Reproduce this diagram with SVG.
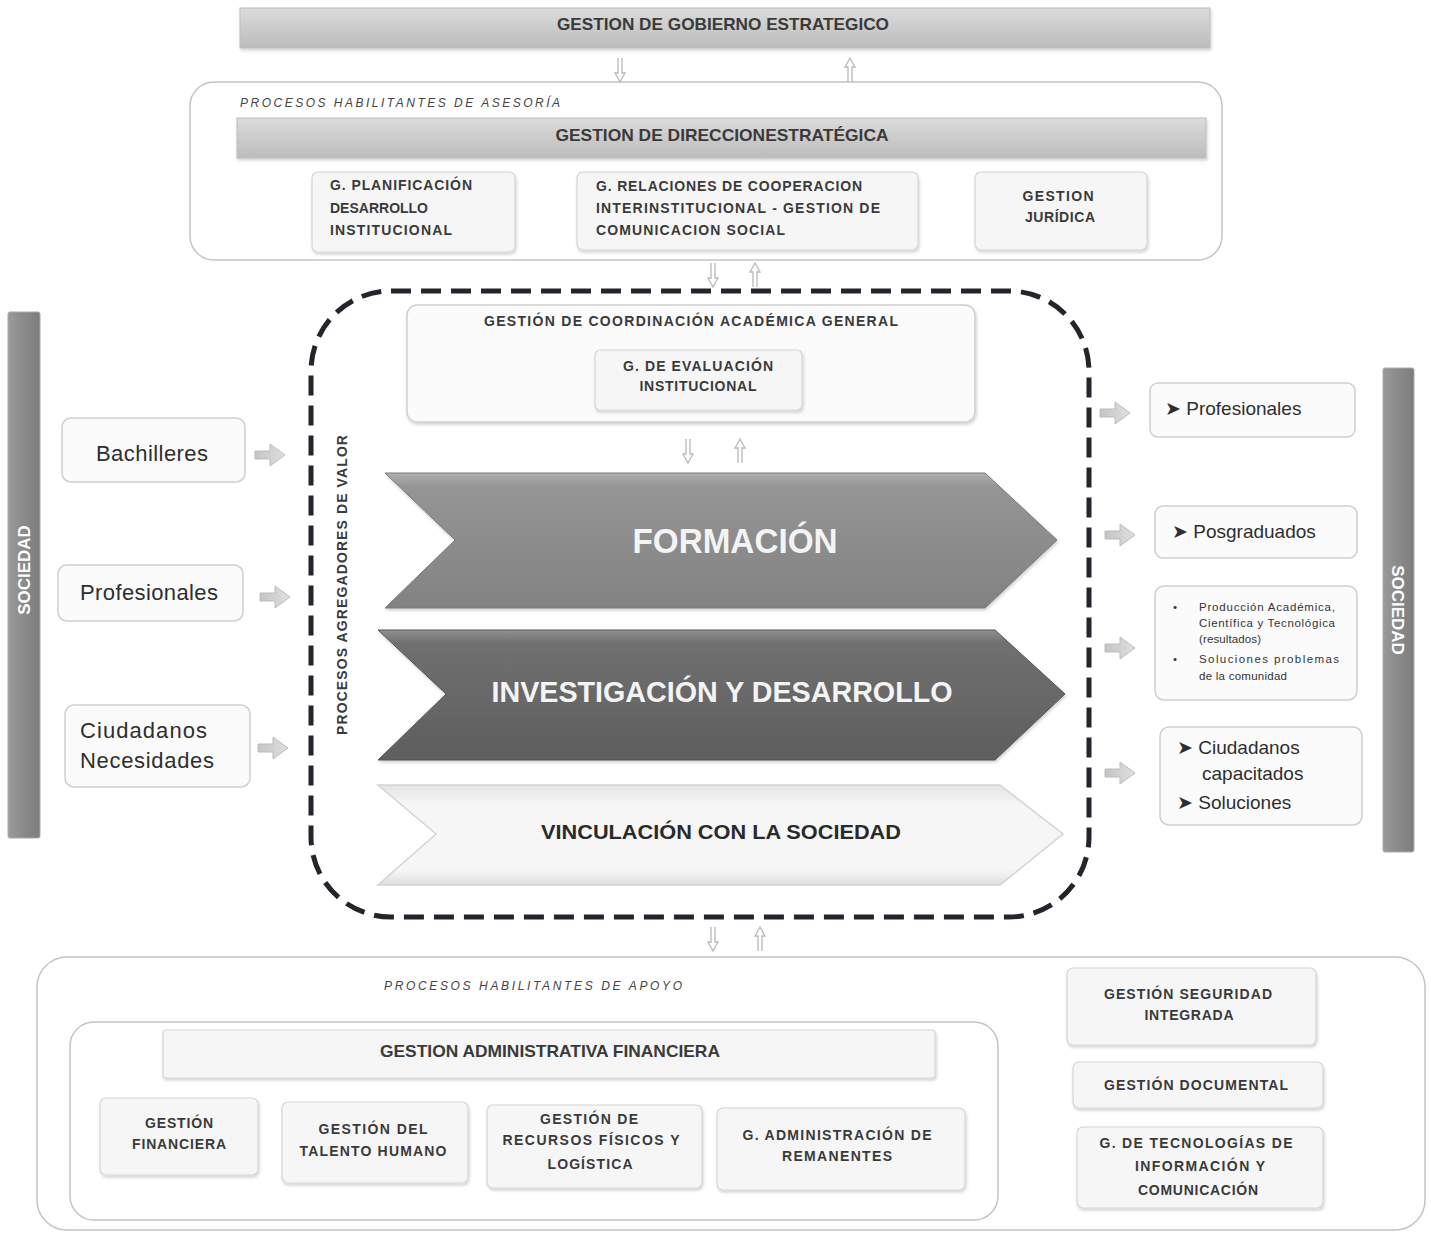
<svg xmlns="http://www.w3.org/2000/svg" width="1431" height="1233" viewBox="0 0 1431 1233">
<defs>
<style>
.hd{font-family:"Liberation Sans",Arial,sans-serif;font-weight:bold;fill:#3a3a3a;font-size:17px}
.sm{font-family:"Liberation Sans",Arial,sans-serif;font-weight:bold;fill:#3a3a3a;font-size:14px}
.lab{font-family:"Liberation Sans",Arial,sans-serif;fill:#444;font-size:12px;font-style:italic}
.box{fill:#fbfbfb;stroke:#cfcfcf;stroke-width:1.5}
.sub{fill:#f6f6f6;stroke:#d6d6d6;stroke-width:1.2}
.frame{fill:#fff;stroke:#c4c4c4;stroke-width:1.5}
.bar{fill:url(#gbar);stroke:#bdbdbd;stroke-width:1}
.soc{fill:url(#gsoc);stroke:#aaa;stroke-width:1}
.inp{font-family:"Liberation Sans",Arial,sans-serif;fill:#2e2e2e;font-size:22px}
.out{font-family:"Liberation Sans",Arial,sans-serif;fill:#2e2e2e;font-size:19px}
.tiny{font-family:"Liberation Sans",Arial,sans-serif;fill:#333;font-size:11.5px}
.vt{font-family:"Liberation Sans",Arial,sans-serif;font-weight:bold;fill:#fff;font-size:17px}
.ud{fill:none;stroke:#b8b8b8;stroke-width:1.3}
</style>
<linearGradient id="gbar" x1="0" y1="0" x2="0" y2="1">
<stop offset="0" stop-color="#dcdcdc"/><stop offset="0.5" stop-color="#cbcbcb"/><stop offset="1" stop-color="#bdbdbd"/>
</linearGradient>
<linearGradient id="gsoc" x1="0" y1="0" x2="1" y2="0">
<stop offset="0" stop-color="#9a9a9a"/><stop offset="0.5" stop-color="#8a8a8a"/><stop offset="1" stop-color="#7d7d7d"/>
</linearGradient>
<linearGradient id="gf" x1="0" y1="0" x2="0" y2="1">
<stop offset="0" stop-color="#b0b0b0"/><stop offset="0.1" stop-color="#959595"/><stop offset="1" stop-color="#828282"/>
</linearGradient>
<linearGradient id="gi" x1="0" y1="0" x2="0" y2="1">
<stop offset="0" stop-color="#909090"/><stop offset="0.1" stop-color="#707070"/><stop offset="1" stop-color="#5e5e5e"/>
</linearGradient>
<linearGradient id="gv" x1="0" y1="0" x2="0" y2="1">
<stop offset="0" stop-color="#e4e4e4"/><stop offset="0.2" stop-color="#f6f6f6"/><stop offset="0.85" stop-color="#f6f6f6"/><stop offset="1" stop-color="#dedede"/>
</linearGradient>
<linearGradient id="ga" x1="0" y1="0" x2="1" y2="0">
<stop offset="0" stop-color="#c4c4c4"/><stop offset="1" stop-color="#e0e0e0"/>
</linearGradient>
<filter id="sh" x="-5%" y="-10%" width="110%" height="130%">
<feDropShadow dx="1" dy="2" stdDeviation="1.5" flood-color="#000" flood-opacity="0.18"/>
</filter>
<symbol id="barrow" viewBox="0 0 32 26" width="32" height="26" overflow="visible">
<path d="M1,9 L16,9 L16,2 L31,13 L16,24 L16,17 L1,17 Z" fill="url(#ga)" stroke="#bdbdbd" stroke-width="1"/>
</symbol>
<symbol id="down" viewBox="0 0 12 26" width="12" height="26" overflow="visible">
<path class="ud" d="M4,1 L4,16 L1,16 L6,25 L11,16 L8,16 L8,1"/>
</symbol>
<symbol id="up" viewBox="0 0 12 26" width="12" height="26" overflow="visible">
<path class="ud" d="M4,25 L4,10 L1,10 L6,1 L11,10 L8,10 L8,25"/>
</symbol>
</defs>
<rect width="1431" height="1233" fill="#fff"/>

<g id="gobierno">
<rect class="bar" x="240" y="8" width="970" height="40" filter="url(#sh)"/>
<text class="hd" x="723" y="30" text-anchor="middle" textLength="332" lengthAdjust="spacingAndGlyphs">GESTION DE GOBIERNO ESTRATEGICO</text>
</g>

<g id="asesoria">
<rect class="frame" x="190" y="82" width="1032" height="178" rx="24"/>
<text class="lab" x="240" y="107" textLength="320" lengthAdjust="spacing">PROCESOS  HABILITANTES DE ASESORÍA</text>
</g>
<g id="direccion">
<rect class="bar" x="237" y="118" width="969" height="40" filter="url(#sh)"/>
<text class="hd" x="722" y="141" text-anchor="middle" textLength="333" lengthAdjust="spacingAndGlyphs">GESTION DE DIRECCIONESTRATÉGICA</text>
</g>
<g id="planificacion">
<rect class="sub" x="312" y="172" width="203" height="80" rx="6" filter="url(#sh)"/>
<text class="sm" x="330" y="190" textLength="142">G. PLANIFICACIÓN</text>
<text class="sm" x="330" y="213" textLength="98">DESARROLLO</text>
<text class="sm" x="330" y="235" textLength="122">INSTITUCIONAL</text>
</g>
<g id="relaciones">
<rect class="sub" x="577" y="172" width="341" height="78" rx="6" filter="url(#sh)"/>
<text class="sm" x="596" y="191" textLength="266">G. RELACIONES DE COOPERACION</text>
<text class="sm" x="596" y="213" textLength="284">INTERINSTITUCIONAL - GESTION DE</text>
<text class="sm" x="596" y="235" textLength="189">COMUNICACION  SOCIAL</text>
</g>
<g id="juridica">
<rect class="sub" x="975" y="172" width="172" height="78" rx="6" filter="url(#sh)"/>
<text class="sm" x="1058" y="201" text-anchor="middle" textLength="71">GESTION</text>
<text class="sm" x="1060" y="222" text-anchor="middle" textLength="70">JURÍDICA</text>
</g>

<g id="sociedad-izq">
<rect class="soc" x="8" y="312" width="32" height="526" rx="2"/>
<text class="vt" transform="translate(30,570) rotate(-90)" text-anchor="middle">SOCIEDAD</text>
</g>
<g id="sociedad-der">
<rect class="soc" x="1383" y="368" width="31" height="484" rx="2"/>
<text class="vt" transform="translate(1392,610) rotate(90)" text-anchor="middle">SOCIEDAD</text>
</g>

<g id="bachilleres">
<rect class="box" x="62" y="418" width="183" height="64" rx="9"/>
<text class="inp" x="152" y="461" text-anchor="middle" textLength="112">Bachilleres</text>
</g>
<g id="profesionales-in">
<rect class="box" x="58" y="565" width="185" height="56" rx="9"/>
<text class="inp" x="149" y="600" text-anchor="middle" textLength="138">Profesionales</text>
</g>
<g id="ciudadanos-in">
<rect class="box" x="65" y="705" width="185" height="82" rx="9"/>
<text class="inp" x="80" y="738" textLength="127">Ciudadanos</text>
<text class="inp" x="80" y="768" textLength="134">Necesidades</text>
</g>

<g id="agregadores">
<rect x="311" y="291" width="778" height="626" rx="80" fill="none" stroke="#23252b" stroke-width="5" stroke-dasharray="20 10"/>
<text class="sm" transform="translate(347,585) rotate(-90)" text-anchor="middle" font-size="13" textLength="300" lengthAdjust="spacing">PROCESOS  AGREGADORES  DE VALOR</text>
</g>
<g id="coordinacion">
<rect class="box" x="407" y="305" width="568" height="117" rx="10" filter="url(#sh)"/>
<text class="sm" x="691" y="326" text-anchor="middle" font-weight="normal" textLength="414" lengthAdjust="spacing">GESTIÓN  DE COORDINACIÓN   ACADÉMICA GENERAL</text>
</g>
<g id="evaluacion">
<rect class="sub" x="595" y="350" width="207" height="60" rx="5" filter="url(#sh)"/>
<text class="sm" x="698" y="371" text-anchor="middle" textLength="150">G. DE EVALUACIÓN</text>
<text class="sm" x="698" y="391" text-anchor="middle" textLength="117">INSTITUCIONAL</text>
</g>

<g id="formacion">
<path d="M385,473 L985,473 L1057,540 L985,608 L385,608 L455,540 Z" fill="url(#gf)" stroke="#7a7a7a" stroke-width="1" filter="url(#sh)"/>
<text x="735" y="553" text-anchor="middle" font-family="Liberation Sans,Arial,sans-serif" font-weight="bold" font-size="35" fill="#f4f4f4" textLength="205" lengthAdjust="spacingAndGlyphs">FORMACIÓN</text>
</g>
<g id="investigacion">
<path d="M378,630 L995,630 L1065,694 L995,760 L378,760 L446,694 Z" fill="url(#gi)" stroke="#555" stroke-width="1" filter="url(#sh)"/>
<text x="722" y="702" text-anchor="middle" font-family="Liberation Sans,Arial,sans-serif" font-weight="bold" font-size="29" fill="#f4f4f4" textLength="461" lengthAdjust="spacingAndGlyphs">INVESTIGACIÓN Y DESARROLLO</text>
</g>
<g id="vinculacion">
<path d="M378,785 L1000,785 L1063,834 L1000,885 L378,885 L436,834 Z" fill="url(#gv)" stroke="#d4d4d4" stroke-width="1.5"/>
<text x="721" y="839" text-anchor="middle" font-family="Liberation Sans,Arial,sans-serif" font-weight="bold" font-size="21" fill="#2a2a2a" textLength="360" lengthAdjust="spacingAndGlyphs">VINCULACIÓN  CON LA SOCIEDAD</text>
</g>

<g id="profesionales-out">
<rect class="box" x="1150" y="383" width="205" height="54" rx="8"/>
<text class="out" x="1165" y="415">➤ Profesionales</text>
</g>
<g id="posgraduados">
<rect class="box" x="1155" y="506" width="202" height="52" rx="8"/>
<text class="out" x="1172" y="538">➤ Posgraduados</text>
</g>
<g id="produccion">
<rect class="box" x="1155" y="586" width="202" height="114" rx="9"/>
<text class="tiny" x="1173" y="611">•</text>
<text class="tiny" x="1199" y="611" textLength="136">Producción Académica,</text>
<text class="tiny" x="1199" y="627" textLength="136">Científica y Tecnológica</text>
<text class="tiny" x="1199" y="643" textLength="62">(resultados)</text>
<text class="tiny" x="1173" y="663">•</text>
<text class="tiny" x="1199" y="663" textLength="140">Soluciones problemas</text>
<text class="tiny" x="1199" y="680" textLength="88">de la comunidad</text>
</g>
<g id="ciudadanos-out">
<rect class="box" x="1160" y="727" width="202" height="98" rx="9"/>
<text class="out" x="1177" y="754">➤ Ciudadanos</text>
<text class="out" x="1202" y="780">capacitados</text>
<text class="out" x="1177" y="809">➤ Soluciones</text>
</g>

<g id="apoyo">
<rect class="frame" x="37" y="957" width="1388" height="273" rx="30"/>
<text class="lab" x="533" y="990" text-anchor="middle" textLength="298" lengthAdjust="spacing">PROCESOS  HABILITANTES DE APOYO</text>
</g>
<g id="admin-frame">
<rect class="frame" x="70" y="1022" width="928" height="198" rx="24"/>
</g>
<g id="admin-financiera">
<rect class="sub" x="163" y="1030" width="772" height="48" rx="3" filter="url(#sh)"/>
<text class="hd" x="550" y="1057" text-anchor="middle" textLength="340" lengthAdjust="spacingAndGlyphs">GESTION ADMINISTRATIVA FINANCIERA</text>
</g>
<g id="financiera">
<rect class="sub" x="100" y="1098" width="158" height="77" rx="6" filter="url(#sh)"/>
<text class="sm" x="179" y="1128" text-anchor="middle" textLength="68">GESTIÓN</text>
<text class="sm" x="179" y="1149" text-anchor="middle" textLength="94">FINANCIERA</text>
</g>
<g id="talento">
<rect class="sub" x="282" y="1102" width="186" height="81" rx="6" filter="url(#sh)"/>
<text class="sm" x="373" y="1134" text-anchor="middle" textLength="109">GESTIÓN DEL</text>
<text class="sm" x="373" y="1156" text-anchor="middle" textLength="147">TALENTO HUMANO</text>
</g>
<g id="recursos">
<rect class="sub" x="487" y="1105" width="215" height="83" rx="6" filter="url(#sh)"/>
<text class="sm" x="589" y="1124" text-anchor="middle" textLength="98">GESTIÓN DE</text>
<text class="sm" x="591" y="1145" text-anchor="middle" textLength="177">RECURSOS  FÍSICOS Y</text>
<text class="sm" x="590" y="1169" text-anchor="middle" textLength="85">LOGÍSTICA</text>
</g>
<g id="remanentes">
<rect class="sub" x="717" y="1108" width="248" height="82" rx="6" filter="url(#sh)"/>
<text class="sm" x="837" y="1140" text-anchor="middle" textLength="189">G. ADMINISTRACIÓN  DE</text>
<text class="sm" x="837" y="1161" text-anchor="middle" textLength="110">REMANENTES</text>
</g>
<g id="seguridad">
<rect class="sub" x="1067" y="968" width="249" height="77" rx="6" filter="url(#sh)"/>
<text class="sm" x="1188" y="999" text-anchor="middle" textLength="168">GESTIÓN SEGURIDAD</text>
<text class="sm" x="1189" y="1020" text-anchor="middle" textLength="89">INTEGRADA</text>
</g>
<g id="documental">
<rect class="sub" x="1073" y="1062" width="250" height="46" rx="6" filter="url(#sh)"/>
<text class="sm" x="1196" y="1090" text-anchor="middle" textLength="184">GESTIÓN DOCUMENTAL</text>
</g>
<g id="tecnologias">
<rect class="sub" x="1077" y="1127" width="246" height="81" rx="6" filter="url(#sh)"/>
<text class="sm" x="1196" y="1148" text-anchor="middle" textLength="193">G. DE TECNOLOGÍAS  DE</text>
<text class="sm" x="1200" y="1171" text-anchor="middle" textLength="130">INFORMACIÓN  Y</text>
<text class="sm" x="1198" y="1195" text-anchor="middle" textLength="120">COMUNICACIÓN</text>
</g>

<g id="connectors">
<use href="#down" x="614" y="57"/>
<use href="#up" x="844" y="57"/>
<use href="#down" x="707" y="262"/>
<use href="#up" x="749" y="262"/>
<use href="#down" x="682" y="438"/>
<use href="#up" x="734" y="438"/>
<use href="#down" x="707" y="926"/>
<use href="#up" x="754" y="926"/>
<use href="#barrow" x="254" y="442"/>
<use href="#barrow" x="259" y="584"/>
<use href="#barrow" x="257" y="735"/>
<use href="#barrow" x="1099" y="400"/>
<use href="#barrow" x="1104" y="522"/>
<use href="#barrow" x="1104" y="635"/>
<use href="#barrow" x="1104" y="760"/>
</g>
</svg>
